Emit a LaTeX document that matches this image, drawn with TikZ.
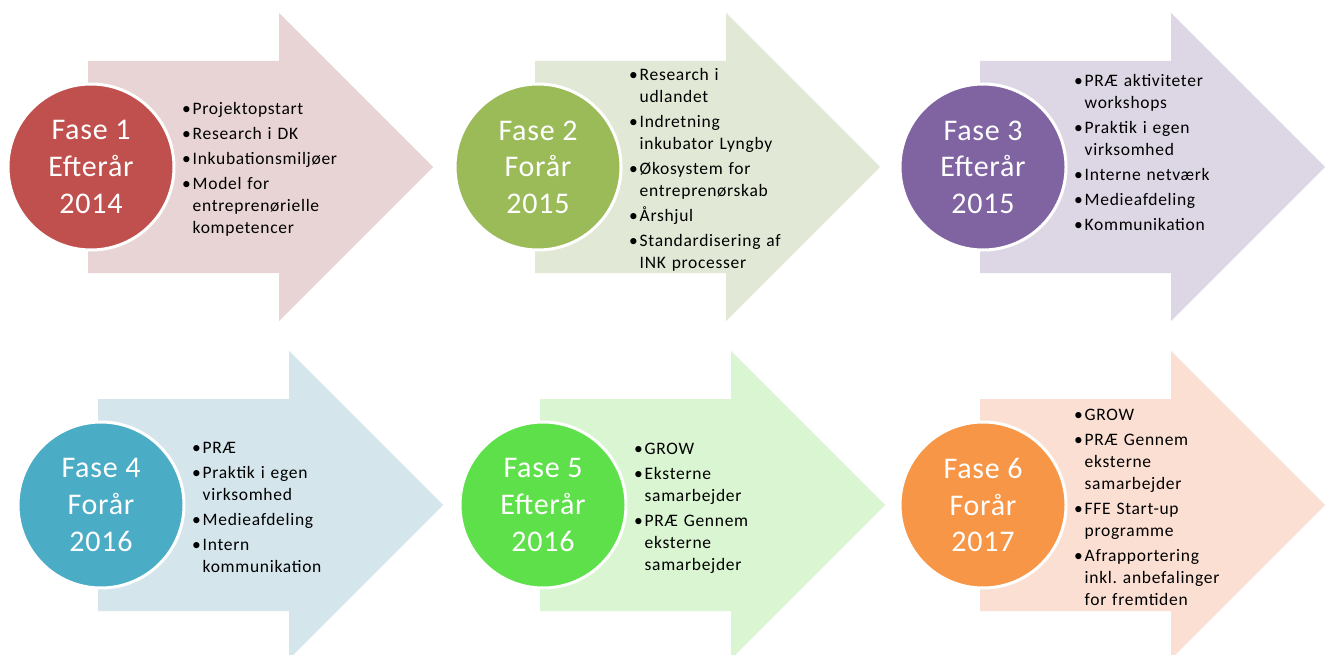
\documentclass[tikz,border=0pt]{standalone}
\usepackage{fontspec}
\setmainfont{Carlito}
\newfontfamily\listfont[LetterSpace=4]{Carlito}
\newfontfamily\fasefont[LetterSpace=2.5]{Carlito}
\usetikzlibrary{positioning}
\definecolor{fase1}{HTML}{C0504D}
\definecolor{fase2}{HTML}{9BBB59}
\definecolor{fase3}{HTML}{8064A2}
\definecolor{fase4}{HTML}{4BACC6}
\definecolor{fase5}{HTML}{5EE04A}
\definecolor{fase6}{HTML}{F79646}
\definecolor{lys1}{HTML}{E8D4D4}
\definecolor{lys2}{HTML}{E1E9D6}
\definecolor{lys3}{HTML}{DDD7E5}
\definecolor{lys4}{HTML}{D4E5EC}
\definecolor{lys5}{HTML}{D9F5D1}
\definecolor{lys6}{HTML}{FBDFD3}
%% punkt i listen
\newcommand\pkt[1]{\par\addvspace{3pt}\hangindent=10.5pt\hangafter=1\noindent\makebox[10.5pt][l]{\textbullet}#1\par}
\begin{document}
\begin{tikzpicture}[x=1pt, y=-1pt, line join=round,
	fase/.style={circle, draw=white, line width=3pt, minimum size=166pt, inner sep=0pt, text=white, align=center, font=\fasefont\fontsize{30}{36.6}\selectfont},
	liste/.style={anchor=west, inner sep=0pt, text width=200pt, align=left, yshift=4pt, font=\listfont\fontsize{17.5}{22}\selectfont\frenchspacing}]
	\clip (0,0) rectangle (1330,655);
	\fill[white] (0,0) rectangle (1330,655);
	%%Pile og cirkler
	\foreach \n/\bx/\cy/\saeson/\aar in {1/88/167/Efterår/2014, 2/535/167/Forår/2015, 3/980/167/Efterår/2015, 4/98/505/Forår/2016, 5/540/505/Efterår/2016, 6/980/505/Forår/2017}
	{
	\fill[lys\n] (\bx,\cy-106)--(\bx+191,\cy-106)--(\bx+191,\cy-154)--(\bx+345,\cy)--(\bx+191,\cy+154)--(\bx+191,\cy+106)--(\bx,\cy+106)--cycle;
	\node[fase, fill=fase\n] (f\n) at (\bx+3,\cy) {Fase \n\\\saeson\\\aar};
	}
	%%Tekst
	\node[liste, right=6.5pt of f1] (l1) {\pkt{Projektopstart}\pkt{Research i DK}\pkt{Inkubationsmiljøer}\pkt{Model for\newline entreprenørielle\newline kompetencer}};
	\node[liste, right=6.5pt of f2] (l2) {\pkt{Research i\newline udlandet}\pkt{Indretning\newline inkubator Lyngby}\pkt{Økosystem for\newline entreprenørskab}\pkt{Årshjul}\pkt{Standardisering af\newline INK processer}};
	\node[liste, right=6.5pt of f3, yshift=17pt] (l3) {\pkt{PRÆ aktiviteter\newline workshops}\pkt{Praktik i egen\newline virksomhed}\pkt{Interne netværk}\pkt{Medieafdeling}\pkt{Kommunikation}};
	\node[liste, right=6.5pt of f4] (l4) {\pkt{PRÆ}\pkt{Praktik i egen\newline virksomhed}\pkt{Medieafdeling}\pkt{Intern\newline kommunikation}};
	\node[liste, right=6.5pt of f5] (l5) {\pkt{GROW}\pkt{Eksterne\newline samarbejder}\pkt{PRÆ Gennem\newline eksterne\newline samarbejder}};
	\node[liste, right=6.5pt of f6] (l6) {\pkt{GROW}\pkt{PRÆ Gennem\newline eksterne\newline samarbejder}\pkt{FFE Start-up\newline programme}\pkt{Afrapportering\newline inkl. anbefalinger\newline for fremtiden}};
\end{tikzpicture}
\end{document}
